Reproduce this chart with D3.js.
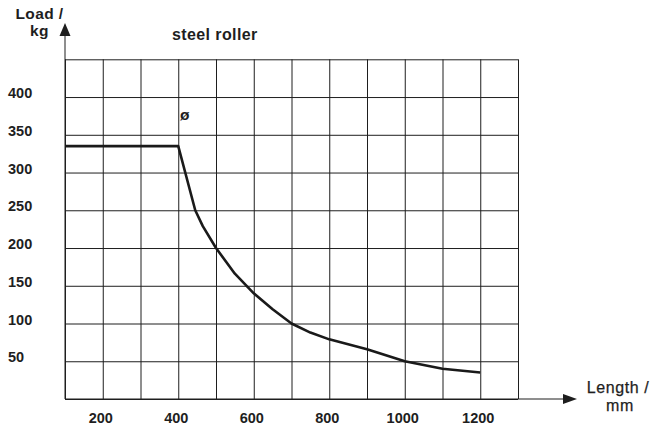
<!DOCTYPE html>
<html>
<head>
<meta charset="utf-8">
<script src="https://cdn.jsdelivr.net/npm/d3@7"></script>
<style>
  html, body { margin: 0; padding: 0; background: #fff; }
  svg { display: block; font-family: "Liberation Sans", Arial, Helvetica, sans-serif; }
</style>
</head>
<body>
<svg id="chart" width="652" height="427"></svg>
<script>
// Load rating of a steel roller versus roller length
const lengths = [100, 400, 445, 465, 500, 550, 600, 650, 700, 750, 800, 900, 1000, 1100, 1200];
const loads   = [335, 335, 250, 229, 200, 166, 140, 119, 100, 88, 79, 66, 50, 40, 35];

const xTickLabels = [200, 400, 600, 800, 1000, 1200];
const yTickLabels = [50, 100, 150, 200, 250, 300, 350, 400];
const xGrid = d3.range(100, 1301, 100);
const yGrid = d3.range(0, 451, 50);

const svg = d3.select("#chart");
const x = d3.scaleLinear().domain([100, 1300]).range([65, 518]);
const y = d3.scaleLinear().domain([0, 450]).range([399, 59.3]);

const ink = "#1e1e1e";

// grid
const grid = svg.append("g");
grid.append("g")
  .attr("transform", `translate(0,${y(0)})`)
  .call(d3.axisBottom(x).tickValues(xGrid).tickSize(-(y(0) - y(450))).tickFormat(""))
  .call(g => g.select(".domain").remove())
  .call(g => g.selectAll("line").attr("stroke", ink).attr("stroke-width", 1));
grid.append("g")
  .attr("transform", `translate(${x(100)},0)`)
  .call(d3.axisLeft(y).tickValues(yGrid).tickSize(-(x(1300) - x(100))).tickFormat(""))
  .call(g => g.select(".domain").remove())
  .call(g => g.selectAll("line").attr("stroke", ink).attr("stroke-width", 1));

// axes with arrow heads
svg.append("line")
  .attr("x1", x(100)).attr("x2", x(100)).attr("y1", y(0)).attr("y2", 30)
  .attr("stroke", ink).attr("stroke-width", 1);
svg.append("path")
  .attr("d", `M${x(100)},23 L${x(100) - 5.5},36 L${x(100) + 5.5},36 Z`)
  .attr("fill", ink);
svg.append("line")
  .attr("x1", x(100)).attr("x2", 570).attr("y1", y(0)).attr("y2", y(0))
  .attr("stroke", ink).attr("stroke-width", 1);
svg.append("path")
  .attr("d", `M577,${y(0)} L563,${y(0) - 5} L563,${y(0) + 5} Z`)
  .attr("fill", ink);

// tick labels
svg.append("g").selectAll("text").data(xTickLabels).join("text")
  .attr("x", d => x(d) - 2).attr("y", 422.5)
  .attr("text-anchor", "middle")
  .attr("font-size", 14.5).attr("font-weight", "bold").attr("fill", ink)
  .text(d => d);
svg.append("g").selectAll("text").data(yTickLabels).join("text")
  .attr("x", 8).attr("y", d => y(d) - 4)
  .attr("dy", "0.35em")
  .attr("font-size", 14.5).attr("font-weight", "bold").attr("fill", ink)
  .text(d => d);

// axis titles
const yTitle = svg.append("text").attr("text-anchor", "middle")
  .attr("font-size", 15.5).attr("font-weight", "bold").attr("fill", ink)
  .attr("letter-spacing", 0.4);
yTitle.append("tspan").attr("x", 39.5).attr("y", 19).text("Load /");
yTitle.append("tspan").attr("x", 39.5).attr("y", 36).text("kg");

const xTitle = svg.append("text").attr("text-anchor", "middle")
  .attr("font-size", 16).attr("fill", ink).attr("letter-spacing", 0.6)
  .attr("stroke", ink).attr("stroke-width", 0.25);
xTitle.append("tspan").attr("x", 618).attr("y", 393).text("Length /");
xTitle.append("tspan").attr("x", 620).attr("y", 411).text("mm");

// chart title and diameter mark
svg.append("text")
  .attr("x", 172).attr("y", 40)
  .attr("font-size", 16).attr("font-weight", "bold").attr("fill", ink)
  .attr("letter-spacing", 0.4)
  .text("steel roller");
svg.append("text")
  .attr("x", 180).attr("y", 120)
  .attr("font-size", 15.5).attr("font-weight", "bold").attr("fill", ink)
  .text("ø");

// load curve
const pts = lengths.map((l, i) => [l, loads[i]]);
svg.append("path")
  .datum(pts)
  .attr("fill", "none")
  .attr("stroke", "#1a1a1a")
  .attr("stroke-width", 2.6)
  .attr("stroke-linejoin", "round")
  .attr("d", d3.line().x(d => x(d[0])).y(d => y(d[1])));
</script>
</body>
</html>
